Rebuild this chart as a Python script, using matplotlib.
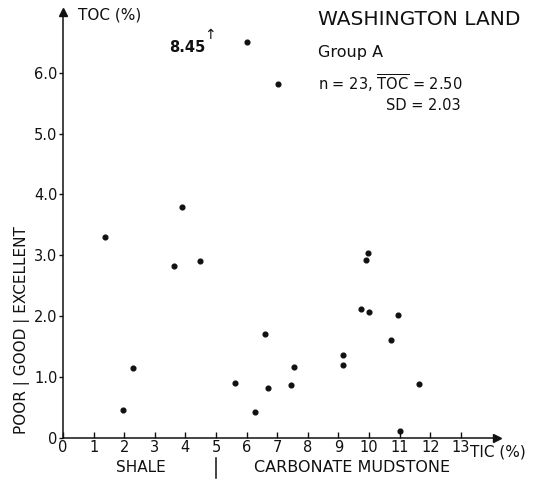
import matplotlib.pyplot as plt

plt.rcParams['font.family'] = ['DejaVu Sans']
plt.rcParams['mathtext.fontset'] = 'dejavusans'

# TIC / TOC pairs, Washington Land, group A
tic = [1.38, 1.95, 2.28, 3.63, 3.88, 4.48, 5.61, 6.00, 6.26, 6.60, 6.70,
       7.04, 7.44, 7.54, 9.14, 9.14, 9.75, 9.90, 9.98, 9.99, 10.71, 10.94,
       11.02, 11.63]
toc = [3.30, 0.46, 1.15, 2.83, 3.79, 2.91, 0.90, 6.50, 0.43, 1.71, 0.82,
       5.81, 0.86, 1.16, 1.36, 1.19, 2.12, 2.93, 3.03, 2.07, 1.61, 2.02,
       0.11, 0.88]
x_ticks = list(range(0, 14))
y_ticks = [0, 1, 2, 3, 4, 5, 6]
y_ticklabels = ["0", "1.0", "2.0", "3.0", "4.0", "5.0", "6.0"]

INK = "#111111"

fig = plt.figure(figsize=(5.5, 4.88), dpi=100)
ax = fig.add_axes([63 / 550, (488 - 437.7) / 488, (497 - 63) / 550, (437.7 - 12) / 488])
ax.set_xlim(0, 14.18)
ax.set_ylim(0, 7.0)

for side in ("top", "right"):
    ax.spines[side].set_visible(False)
for side in ("left", "bottom"):
    ax.spines[side].set_color(INK)
    ax.spines[side].set_linewidth(1.1)

# arrow heads on both axes
ax.plot(1, 0, ">", color=INK, ms=6, transform=ax.get_yaxis_transform(), clip_on=False)
ax.plot(0, 1, "^", color=INK, ms=6, transform=ax.get_xaxis_transform(), clip_on=False)

ax.set_xticks(x_ticks)
ax.set_yticks(y_ticks)
ax.set_yticklabels(y_ticklabels)
ax.tick_params(axis="x", direction="in", length=4, width=1, colors=INK,
               labelsize=10.5, pad=1.5)
ax.tick_params(axis="y", direction="out", length=3, width=1, colors=INK,
               labelsize=10.5, pad=1)

ax.plot(tic, toc, "o", color=INK, ms=3.4, clip_on=False)

# off-scale sample
ax.text(4.64, 6.42, "8.45", ha="right", va="center", fontsize=10.5,
        fontweight="bold", color=INK)
ax.text(4.80, 6.62, "↑", ha="center", va="center", fontsize=10, color=INK)

ax.text(0.49, 6.95, "TOC (%)", ha="left", va="center", fontsize=11, color=INK)
ax.text(13.3, -0.24, "TIC (%)", ha="left", va="center", fontsize=11,
        color=INK, clip_on=False)

ax.text(2.55, -0.49, "SHALE", ha="center", va="center", fontsize=11, color=INK)
ax.plot([5.0, 5.0], [-0.34, -0.66], color=INK, lw=1.1, clip_on=False)
ax.text(9.44, -0.49, "CARBONATE MUDSTONE", ha="center", va="center",
        fontsize=11.5, color=INK)

fig.text(22 / 550, 1 - 330 / 488, "POOR | GOOD | EXCELLENT", rotation=90,
         ha="center", va="center", fontsize=11, color=INK)

ax.text(8.33, 6.87, "WASHINGTON LAND", ha="left", va="center", fontsize=14.5,
        color=INK)
ax.text(8.33, 6.34, "Group A", ha="left", va="center", fontsize=11.5, color=INK)
ax.text(8.33, 5.83, r"n = 23, $\overline{\mathrm{TOC}}$ = 2.50", ha="left",
        va="center", fontsize=10.5, color=INK)
ax.text(13.0, 5.46, "SD = 2.03", ha="right", va="center", fontsize=10.5,
        color=INK)

fig.savefig("out.png", dpi=100, facecolor="white")
